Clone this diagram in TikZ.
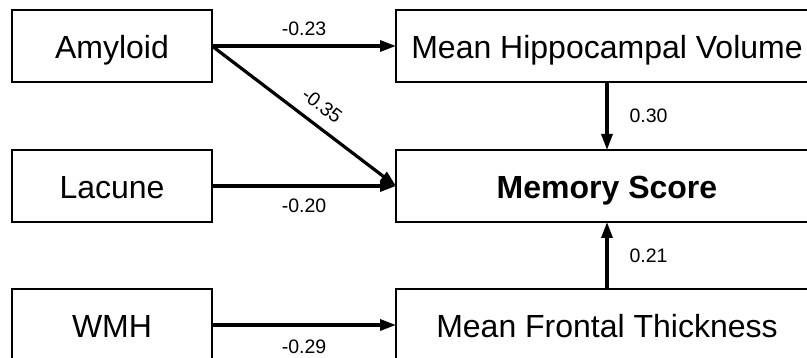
\documentclass[tikz,border=0pt]{standalone}
\usepackage{fontspec}
\setmainfont{Liberation Sans}
\usetikzlibrary{arrows.meta}
\begin{document}
\begin{tikzpicture}[x=1pt,y=-1pt,
  box/.style={draw, line width=2pt, minimum height=72pt, inner sep=0pt, outer sep=0pt,
    text height=26pt, text depth=0pt, font=\fontsize{32}{38}\selectfont},
  lbox/.style={box, minimum width=200pt},
  rbox/.style={box, minimum width=422pt},
  conn/.style={line width=3.2pt, -{Triangle[length=16pt,width=11pt]}},
  coef/.style={inner sep=0pt, text height=14pt, text depth=0pt, font=\fontsize{19.5}{23}\selectfont}
]
\useasboundingbox (0,0) rectangle (807,358);
\clip (0,0) rectangle (807,358);
\node[lbox] (amy) at (112,46) {Amyloid};
\node[lbox] (lac) at (112,186) {Lacune};
\node[lbox] (wmh) at (112,325) {WMH};
\node[rbox] (hip) at (607,46) {Mean Hippocampal Volume};
\node[rbox, font=\fontsize{32}{38}\selectfont\bfseries] (mem) at (607,186) {Memory Score};
\node[rbox] (fro) at (607,325) {Mean Frontal Thickness};
\draw[conn] (amy.east) -- node[coef, above=9pt] {-0.23} (hip.west);
\draw[conn] (amy.east) -- node[coef, pos=0.535, sloped, above=11pt] {-0.35} (mem.west);
\draw[conn] (lac.east) -- node[coef, below=11pt] {-0.20} (mem.west);
\draw[conn] (wmh.east) -- node[coef, below=13pt] {-0.29} (fro.west);
\draw[conn] (hip.south) -- node[coef, right=21pt] {0.30} (mem.north);
\draw[conn] (fro.north) -- node[coef, right=21pt] {0.21} (mem.south);
\end{tikzpicture}
\end{document}
